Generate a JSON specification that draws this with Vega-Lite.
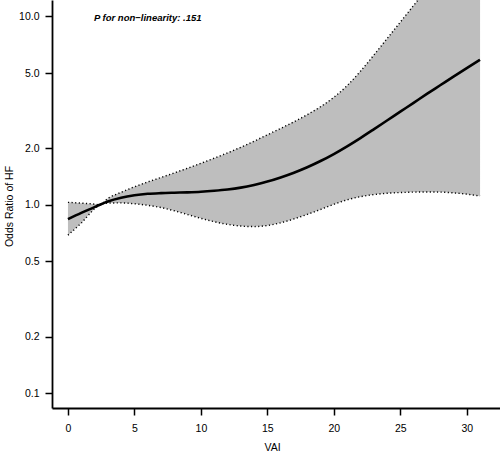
{
  "$schema": "https://vega.github.io/schema/vega-lite/v6.json",
  "width": 448,
  "height": 408,
  "autosize": {"type": "none"},
  "padding": {"left": 52, "top": 0, "right": 0, "bottom": 51},
  "background": "white",
  "config": {
    "view": {"stroke": null},
    "font": "Liberation Sans",
    "axis": {
      "grid": false,
      "domainColor": "black",
      "domainWidth": 1.8,
      "tickColor": "black",
      "tickWidth": 1.5,
      "tickSize": 7,
      "labelColor": "black",
      "labelFont": "Liberation Sans",
      "labelFontSize": 10.5,
      "titleFont": "Liberation Sans",
      "titleFontSize": 10.5,
      "titleFontWeight": "normal",
      "titleColor": "black"
    }
  },
  "datasets": {
    "curve": [
      {"vai": 0, "or": 0.839, "lo": 0.69, "hi": 1.03},
      {"vai": 1, "or": 0.906, "lo": 0.8, "hi": 1.02},
      {"vai": 2, "or": 0.971, "lo": 0.951, "hi": 1.008},
      {"vai": 2.4, "or": 1.0, "lo": 1.0, "hi": 1.0},
      {"vai": 3, "or": 1.04, "lo": 1.021, "hi": 1.08},
      {"vai": 4, "or": 1.089, "lo": 1.023, "hi": 1.164},
      {"vai": 5, "or": 1.122, "lo": 1.012, "hi": 1.245},
      {"vai": 6, "or": 1.143, "lo": 0.993, "hi": 1.321},
      {"vai": 7, "or": 1.153, "lo": 0.966, "hi": 1.396},
      {"vai": 8, "or": 1.159, "lo": 0.929, "hi": 1.476},
      {"vai": 9, "or": 1.164, "lo": 0.887, "hi": 1.563},
      {"vai": 10, "or": 1.172, "lo": 0.847, "hi": 1.66},
      {"vai": 11, "or": 1.186, "lo": 0.813, "hi": 1.766},
      {"vai": 12, "or": 1.205, "lo": 0.787, "hi": 1.884},
      {"vai": 13, "or": 1.233, "lo": 0.771, "hi": 2.018},
      {"vai": 14, "or": 1.274, "lo": 0.766, "hi": 2.173},
      {"vai": 15, "or": 1.327, "lo": 0.776, "hi": 2.35},
      {"vai": 16, "or": 1.396, "lo": 0.802, "hi": 2.541},
      {"vai": 17, "or": 1.479, "lo": 0.841, "hi": 2.754},
      {"vai": 18, "or": 1.581, "lo": 0.889, "hi": 3.006},
      {"vai": 19, "or": 1.706, "lo": 0.944, "hi": 3.311},
      {"vai": 20, "or": 1.858, "lo": 1.005, "hi": 3.715},
      {"vai": 21, "or": 2.042, "lo": 1.062, "hi": 4.285},
      {"vai": 22, "or": 2.259, "lo": 1.104, "hi": 5.105},
      {"vai": 23, "or": 2.512, "lo": 1.132, "hi": 6.209},
      {"vai": 24, "or": 2.799, "lo": 1.151, "hi": 7.603},
      {"vai": 25, "or": 3.119, "lo": 1.161, "hi": 9.31},
      {"vai": 26, "or": 3.475, "lo": 1.167, "hi": 11.4},
      {"vai": 27, "or": 3.873, "lo": 1.169, "hi": 13.96},
      {"vai": 28, "or": 4.305, "lo": 1.167, "hi": 17.1},
      {"vai": 29, "or": 4.786, "lo": 1.156, "hi": 20.9},
      {"vai": 30, "or": 5.309, "lo": 1.138, "hi": 25.7},
      {"vai": 31, "or": 5.875, "lo": 1.112, "hi": 31.6}
    ],
    "note": [
      {"vai": 6.0, "or": 9.78, "label": "P for non−linearity: .151"}
    ]
  },
  "layer": [
    {
      "data": {"name": "curve"},
      "mark": {"type": "area", "color": "#bebebe", "clip": true, "interpolate": "monotone"},
      "encoding": {
        "x": {
          "field": "vai", "type": "quantitative",
          "scale": {"domain": [-1.2, 32.5], "nice": false, "zero": false},
          "axis": {
            "values": [0, 5, 10, 15, 20, 25, 30],
            "labelPadding": 8,
            "title": "VAI",
            "titleX": 220,
            "titleY": 42,
            "titleBaseline": "alphabetic"
          }
        },
        "y": {
          "field": "lo", "type": "quantitative",
          "scale": {"type": "log", "domain": [0.0835, 12.2], "nice": false},
          "axis": {
            "values": [0.1, 0.2, 0.5, 1, 2, 5, 10],
            "format": ".1f",
            "labelPadding": 6,
            "title": "Odds Ratio of HF",
            "titleX": -40,
            "titleY": 206,
            "titleAngle": -90,
            "titleBaseline": "alphabetic"
          }
        },
        "y2": {"field": "hi"}
      }
    },
    {
      "data": {"name": "curve"},
      "mark": {"type": "line", "color": "black", "strokeWidth": 1.4, "strokeDash": [1.2, 2.4], "clip": true, "interpolate": "monotone"},
      "encoding": {
        "x": {"field": "vai", "type": "quantitative"},
        "y": {"field": "hi", "type": "quantitative"}
      }
    },
    {
      "data": {"name": "curve"},
      "mark": {"type": "line", "color": "black", "strokeWidth": 1.4, "strokeDash": [1.2, 2.4], "clip": true, "interpolate": "monotone"},
      "encoding": {
        "x": {"field": "vai", "type": "quantitative"},
        "y": {"field": "lo", "type": "quantitative"}
      }
    },
    {
      "mark": {"type": "rule", "color": "#8a8a8a", "strokeWidth": 1.3, "strokeDash": [6, 5]},
      "encoding": {
        "y": {"datum": 1}
      }
    },
    {
      "data": {"name": "curve"},
      "mark": {"type": "line", "color": "black", "strokeWidth": 2.6, "clip": true, "interpolate": "monotone"},
      "encoding": {
        "x": {"field": "vai", "type": "quantitative"},
        "y": {"field": "or", "type": "quantitative"}
      }
    },
    {
      "data": {"name": "note"},
      "mark": {"type": "text", "font": "Liberation Sans", "fontSize": 9.5, "fontWeight": "bold", "fontStyle": "italic", "align": "center", "baseline": "middle", "color": "black"},
      "encoding": {
        "x": {"field": "vai", "type": "quantitative"},
        "y": {"field": "or", "type": "quantitative"},
        "text": {"field": "label"}
      }
    }
  ]
}
